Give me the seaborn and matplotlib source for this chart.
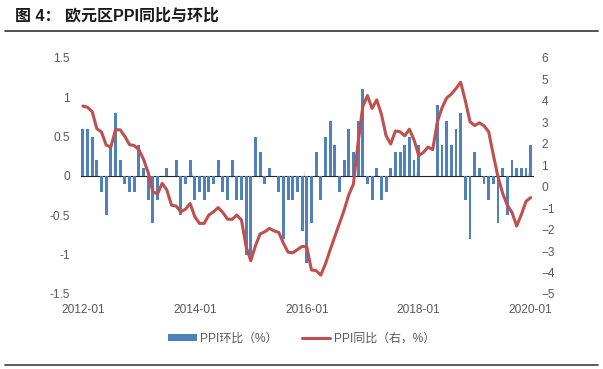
import pandas as pd
import matplotlib
matplotlib.use('Agg')
import matplotlib.pyplot as plt
from matplotlib.lines import Line2D
import seaborn as sns

# monthly data, 2012-01 .. 2020-01
months = list(pd.date_range('2012-01-01', '2020-01-01', freq='MS').strftime('%Y-%m'))

# PPI month-on-month (%), left axis
ppi_mom = [0.6, 0.6, 0.5, 0.2, -0.2, -0.5, 0.4, 0.8, 0.2, -0.1, -0.2, -0.2,
           0.4, 0.1, -0.3, -0.6, -0.3, 0.0, 0.1, 0.0, 0.2, -0.5, -0.1, 0.2,
           -0.3, -0.2, -0.3, -0.2, -0.1, 0.2, -0.2, -0.3, 0.2, -0.3, -0.3, -1.0,
           -1.0, 0.5, 0.3, -0.1, 0.1, 0.0, -0.2, -0.8, -0.3, -0.3, -0.2, -0.7,
           -1.1, -0.6, 0.3, -0.3, 0.5, 0.7, 0.4, -0.2, 0.2, 0.6, 0.3, 0.7,
           1.1, -0.1, -0.3, 0.1, -0.3, -0.2, 0.1, 0.3, 0.3, 0.4, 0.5, 0.2,
           0.4, 0.0, 0.0, 0.0, 0.9, 0.4, 0.7, 0.4, 0.6, 0.8, -0.3, -0.8,
           0.3, 0.1, -0.1, -0.3, -0.1, -0.6, 0.1, -0.5, 0.2, 0.1, 0.1, 0.1,
           0.4]

# PPI year-on-year (%), right axis
ppi_yoy = [3.76, 3.7, 3.5, 2.7, 2.55, 1.94, 1.85, 2.66, 2.65, 2.35, 1.96, 1.92,
           1.73, 1.28, 0.66, -0.23, -0.34, 0.16, -0.15, -0.86, -0.9, -1.17, -1.05, -0.78,
           -1.4, -1.71, -1.71, -1.32, -1.17, -0.97, -1.2, -1.51, -1.52, -1.32, -1.55, -2.8,
           -3.45, -2.75, -2.2, -2.1, -1.94, -2.06, -2.13, -2.64, -3.05, -3.08, -2.93, -2.78,
           -2.8, -3.88, -3.91, -4.12, -3.6, -2.95, -2.33, -1.71, -1.1, -0.38, 0.12, 2.05,
           3.73, 4.25, 3.65, 4.05, 3.38, 2.38, 1.99, 2.6, 2.56, 2.37, 2.68, 2.18,
           1.45, 1.6, 1.85, 1.73, 3.03, 3.68, 4.14, 4.32, 4.58, 4.87, 4.0, 3.03,
           2.85, 2.98, 2.84, 2.56, 1.48, 0.45, -0.31, -0.87, -1.2, -1.83, -1.3, -0.68,
           -0.51]

tick_labels = ['2012-01', '2014-01', '2016-01', '2018-01', '2020-01']
left_ticks = [-1.5, -1, -0.5, 0, 0.5, 1, 1.5]
left_tick_labels = ['-1.5', '-1', '-0.5', '0', '0.5', '1', '1.5']
right_ticks = list(range(-5, 7))

df = pd.DataFrame({'month': months, 'mom': ppi_mom, 'yoy': ppi_yoy})
df['idx'] = range(len(df))

sns.set_style('white')
plt.rcParams['font.family'] = ['Liberation Sans', 'Noto Sans CJK SC']
text_color = '#595959'
fs = 8.6

fig = plt.figure(figsize=(6.03, 3.69), dpi=100)
ax = fig.add_axes([81 / 603, 1 - 294 / 369, (533 - 81) / 603, (294 - 58) / 369])

sns.barplot(x='idx', y='mom', data=df, native_scale=True, color='#4F81BD',
            saturation=1, width=0.62, errorbar=None, linewidth=0,
            label='PPI环比（%）', ax=ax)
for bar in ax.patches:
    bar.set_antialiased(False)
if ax.get_legend():
    ax.get_legend().remove()

ax2 = ax.twinx()
sns.lineplot(x='idx', y='yoy', data=df, color='#C0504D', linewidth=2.2,
             label='PPI同比（右，%）', ax=ax2)
if ax2.get_legend():
    ax2.get_legend().remove()

ax.set_xlim(-0.4, len(df) - 0.5)
ax.set_ylim(-1.5, 1.5)
ax2.set_ylim(-5, 6)

tick_pos = [months.index(t) for t in tick_labels]
ax.set_xticks(tick_pos)
ax.set_xticklabels(tick_labels)
ax.set_yticks(left_ticks)
ax.set_yticklabels(left_tick_labels)
ax2.set_yticks(right_ticks)

ax.tick_params(axis='x', length=0, pad=7, labelsize=fs, labelcolor=text_color)
ax.tick_params(axis='y', length=0, pad=8, labelsize=fs, labelcolor=text_color)
ax2.tick_params(axis='y', length=0, pad=6, labelsize=fs, labelcolor=text_color)

for a in (ax, ax2):
    a.set_xlabel('')
    a.set_ylabel('')
    a.grid(False)
    for s in a.spines.values():
        s.set_visible(False)

# category axis crossing at zero (left axis is symmetric, so zero is mid-height)
zero_ax = ax.secondary_xaxis(0.5)
zero_ax.spines['bottom'].set_color('#d9d9d9')
zero_ax.spines['bottom'].set_linewidth(1.0)
zero_ax.set_xticks([p - 0.5 for p in tick_pos])
zero_ax.set_xticklabels([])
zero_ax.tick_params(axis='x', length=3, color='#d9d9d9', width=1.0)
ax.set_zorder(ax2.get_zorder() - 1)
ax2.patch.set_visible(False)

# legend
h1, l1 = ax.get_legend_handles_labels()
h2, l2 = ax2.get_legend_handles_labels()
fig.legend(h1 + h2, l1 + l2, loc='center', bbox_to_anchor=(0.5, 1 - 339 / 369),
           ncol=2, frameon=False, fontsize=fs, labelcolor=text_color,
           handlelength=2.4, handleheight=0.55, handletextpad=0.3, columnspacing=2.0)

# title and rules
fig.text(15 / 603, 1 - 16 / 369, '图 4： 欧元区PPI同比与环比', fontsize=11.5,
         fontweight='bold', color='#1a1a1a', va='center', ha='left')
fig.add_artist(Line2D([5 / 603, 598 / 603], [1 - 31 / 369] * 2,
                      transform=fig.transFigure, color='#333333', linewidth=1.2))
fig.add_artist(Line2D([5 / 603, 598 / 603], [1 - 365 / 369] * 2,
                      transform=fig.transFigure, color='#404040', linewidth=1.2))

fig.savefig('out.png', dpi=100)
